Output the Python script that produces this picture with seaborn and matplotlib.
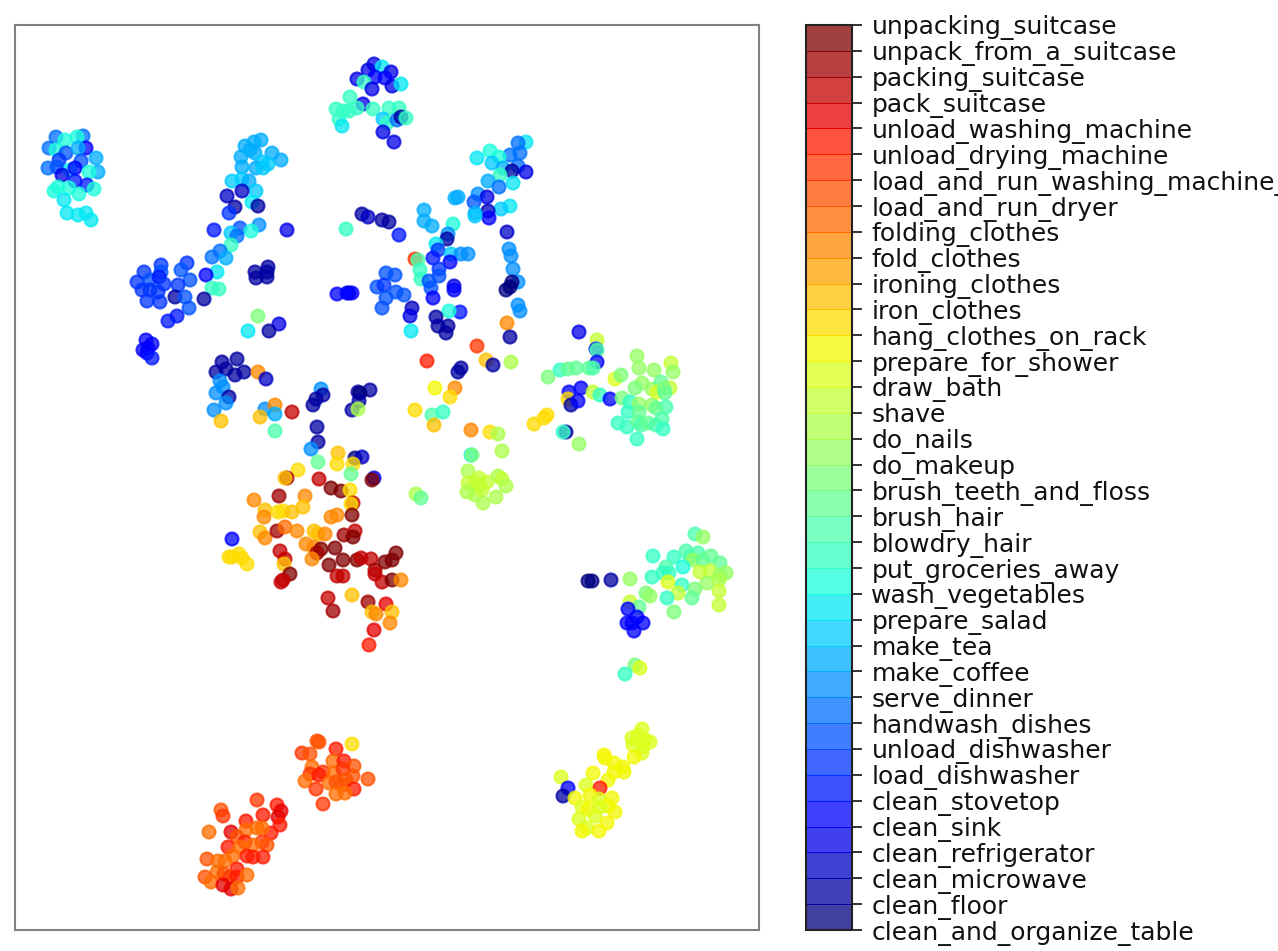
import numpy as np
import pandas as pd
import seaborn as sns
import matplotlib as mpl
import matplotlib.pyplot as plt

activity_names = ['clean_and_organize_table', 'clean_floor', 'clean_microwave', 'clean_refrigerator',
                  'clean_sink', 'clean_stovetop', 'load_dishwasher', 'unload_dishwasher',
                  'handwash_dishes', 'serve_dinner', 'make_coffee', 'make_tea', 'prepare_salad',
                  'wash_vegetables', 'put_groceries_away', 'blowdry_hair', 'brush_hair',
                  'brush_teeth_and_floss', 'do_makeup', 'do_nails', 'shave', 'draw_bath',
                  'prepare_for_shower', 'hang_clothes_on_rack', 'iron_clothes', 'ironing_clothes',
                  'fold_clothes', 'folding_clothes', 'load_and_run_dryer',
                  'load_and_run_washing_machine_', 'unload_drying_machine',
                  'unload_washing_machine', 'pack_suitcase', 'packing_suitcase',
                  'unpack_from_a_suitcase', 'unpacking_suitcase']

# embedding values, cluster by cluster, with the activity index
far_left_x = [56, 83, 65, 77, 49, 86, 56, 66, 78, 96, 59, 81, 48, 57, 70, 75, 98, 89, 62, 75, 87, 94, 54, 58, 69, 79, 64, 67, 78, 86, 91]
far_left_y = [137, 136, 140, 137, 148, 148, 150, 153, 148, 158, 160, 161, 168, 167, 170, 168, 172, 172, 175, 181, 185, 189, 191, 187, 188, 194, 200, 213, 215, 213, 220]
far_left_c = [8, 8, 13, 13, 8, 4, 13, 7, 10, 10, 6, 7, 8, 7, 12, 4, 10, 13, 3, 5, 5, 13, 13, 13, 13, 13, 12, 12, 12, 12, 12]

streak_x = [261, 254, 245, 250, 255, 241, 272, 281, 262, 268, 256, 263, 242, 232, 242, 249, 256, 242, 227, 252, 258, 235, 229, 214, 287, 240, 259, 251, 231, 237, 231, 220, 212, 226, 217, 206, 212, 219, 204]
streak_y = [140, 142, 146, 150, 153, 157, 153, 160, 162, 164, 168, 168, 167, 181, 179, 181, 191, 191, 196, 202, 206, 207, 213, 230, 230, 228, 225, 231, 233, 236, 245, 251, 257, 258, 272, 275, 288, 289, 299]
streak_c = [10, 10, 10, 10, 10, 10, 10, 10, 11, 11, 10, 11, 10, 11, 11, 10, 11, 2, 2, 12, 1, 1, 6, 5, 3, 7, 9, 13, 11, 8, 14, 8, 8, 10, 12, 4, 14, 14, 1]

left_blue_x = [187, 181, 190, 178, 175, 185, 189, 177, 168, 161, 144, 161, 137, 150, 159, 164, 142, 150, 158, 147, 160, 146, 152, 143, 148, 147, 152, 255, 268, 267, 256, 267, 258, 279, 269, 248]
left_blue_y = [263, 270, 280, 285, 297, 297, 308, 316, 321, 265, 272, 272, 282, 280, 277, 284, 290, 290, 292, 301, 302, 340, 344, 350, 348, 353, 358, 272, 267, 272, 278, 277, 316, 324, 331, 331]
left_blue_c = [6, 7, 7, 6, 1, 7, 7, 5, 5, 6, 6, 7, 6, 7, 5, 6, 6, 6, 6, 6, 6, 4, 4, 4, 4, 4, 5, 1, 1, 1, 1, 1, 17, 3, 1, 12]

top_x = [374, 382, 368, 391, 357, 375, 385, 364, 392, 401, 372, 350, 363, 336, 343, 349, 357, 373, 389, 399, 339, 342, 383, 387, 397, 401, 406, 383, 394]
top_y = [64, 67, 70, 72, 79, 77, 78, 82, 86, 84, 89, 97, 104, 109, 111, 111, 108, 109, 108, 108, 119, 126, 119, 123, 120, 117, 118, 132, 142]
top_c = [3, 12, 3, 3, 3, 4, 4, 14, 3, 12, 3, 14, 3, 14, 14, 14, 14, 14, 14, 14, 14, 12, 11, 14, 8, 1, 14, 3, 3]

upper_right_x = [526, 518, 510, 520, 490, 499, 477, 492, 503, 518, 512, 526, 500, 513, 488, 499, 478, 487, 474, 458, 455, 510, 501, 488, 489, 475, 475, 424, 424, 432, 453, 448, 447, 436, 438, 451, 461, 468, 507, 509, 511, 513, 518, 512, 510, 506, 518, 520, 507, 510, 477, 486, 493, 511, 427, 461, 458]
upper_right_y = [142, 143, 155, 153, 151, 157, 158, 163, 168, 166, 171, 172, 175, 183, 181, 187, 194, 197, 202, 197, 198, 206, 209, 211, 218, 213, 216, 210, 221, 226, 224, 234, 239, 244, 250, 254, 254, 254, 232, 249, 256, 269, 282, 282, 287, 290, 305, 311, 323, 337, 346, 360, 365, 362, 361, 368, 372]
upper_right_c = [12, 8, 8, 8, 13, 13, 12, 11, 10, 8, 1, 3, 14, 12, 10, 8, 9, 3, 7, 10, 10, 12, 11, 2, 4, 10, 11, 10, 10, 10, 13, 9, 1, 12, 6, 11, 9, 9, 2, 9, 9, 9, 9, 0, 0, 0, 9, 9, 26, 1, 29, 24, 1, 19, 30, 1, 1]

center_x = [362, 368, 382, 389, 399, 346, 415, 418, 420, 421, 433, 450, 439, 439, 429, 431, 433, 454, 454, 460, 449, 386, 395, 377, 384, 396, 404, 386, 382, 412, 410, 411, 436, 438, 448, 446, 337, 347, 352, 349]
center_y = [214, 217, 220, 222, 235, 229, 259, 260, 270, 279, 258, 262, 269, 276, 281, 288, 298, 286, 290, 312, 311, 273, 275, 287, 285, 292, 295, 298, 308, 308, 316, 331, 317, 326, 326, 333, 294, 293, 293, 293]
center_c = [1, 2, 1, 1, 5, 14, 29, 15, 14, 14, 5, 4, 6, 7, 7, 7, 4, 3, 4, 5, 13, 7, 7, 7, 6, 7, 7, 7, 7, 2, 3, 12, 1, 1, 1, 1, 4, 4, 4, 4]

mid_left_x = [237, 222, 216, 226, 235, 244, 258, 266, 220, 223, 216, 229, 226, 214, 221, 265, 275, 275, 260, 292, 275, 321, 323, 316, 313, 358, 370, 360, 359, 352, 358, 317, 318, 311, 338, 337, 318, 355, 362, 353, 351]
mid_left_y = [359, 362, 372, 369, 375, 372, 372, 379, 381, 387, 393, 397, 403, 410, 421, 409, 405, 414, 417, 412, 431, 389, 395, 399, 405, 392, 390, 393, 401, 410, 409, 427, 442, 449, 453, 464, 462, 458, 457, 464, 474]
mid_left_c = [1, 1, 1, 1, 1, 1, 26, 2, 9, 9, 9, 1, 9, 9, 24, 9, 26, 10, 24, 32, 15, 9, 1, 1, 1, 1, 1, 0, 1, 1, 19, 1, 1, 9, 24, 23, 16, 0, 2, 23, 16]

laundry_x = [298, 287, 285, 319, 331, 341, 350, 374, 372, 279, 305, 254, 353, 351, 303, 265, 278, 283, 292, 264, 331, 337, 352, 260, 265, 277, 285, 297, 314, 318, 325, 344, 355, 353, 232, 306, 314, 321, 317, 312, 335, 280, 285, 284, 343, 329, 357, 361, 371, 396, 385, 392, 375, 375, 382, 392, 401, 337, 343, 290, 283, 281, 229, 239, 242, 247, 232, 328, 352, 368, 333, 386, 372, 376, 392, 390, 374, 369]
laundry_y = [470, 478, 478, 479, 488, 491, 490, 478, 480, 496, 496, 500, 503, 504, 507, 510, 512, 511, 512, 517, 517, 515, 515, 532, 538, 531, 527, 531, 531, 534, 534, 535, 531, 537, 539, 544, 547, 549, 553, 559, 548, 551, 559, 564, 560, 565, 560, 558, 559, 553, 562, 560, 570, 574, 582, 580, 580, 576, 576, 574, 580, 582, 557, 554, 558, 564, 557, 598, 595, 602, 611, 604, 612, 614, 612, 623, 630, 645]
laundry_c = [23, 33, 24, 32, 34, 34, 23, 3, 34, 33, 26, 26, 32, 23, 24, 24, 23, 23, 24, 26, 26, 26, 34, 24, 26, 33, 27, 26, 24, 24, 26, 33, 32, 34, 4, 26, 26, 34, 33, 26, 34, 32, 32, 24, 34, 34, 34, 32, 32, 34, 34, 34, 33, 32, 32, 34, 26, 32, 32, 34, 32, 32, 23, 23, 23, 23, 23, 32, 24, 33, 33, 31, 24, 26, 24, 26, 31, 30]

mid_x = [579, 597, 596, 597, 597, 435, 455, 450, 415, 432, 443, 434, 471, 490, 498, 502, 471, 472, 468, 479, 487, 498, 502, 506, 468, 475, 480, 467, 475, 482, 496, 483, 416, 421]
mid_y = [332, 340, 349, 350, 362, 388, 388, 397, 410, 415, 412, 425, 430, 432, 434, 451, 455, 455, 471, 478, 482, 476, 479, 486, 483, 483, 485, 492, 495, 490, 497, 503, 494, 498]
mid_c = [3, 20, 5, 15, 4, 22, 26, 23, 23, 15, 14, 24, 26, 23, 19, 19, 12, 17, 19, 20, 20, 19, 20, 19, 20, 20, 20, 19, 19, 20, 19, 19, 19, 16]

right_x = [534, 544, 547, 548, 560, 568, 576, 589, 593, 569, 581, 568, 571, 578, 593, 600, 610, 566, 563, 579, 615, 621, 637, 639, 654, 671, 673, 642, 635, 622, 652, 661, 670, 657, 664, 665, 630, 639, 652, 666, 656, 628, 639, 662, 618, 627, 638, 641, 648, 656, 663, 637]
right_y = [424, 418, 415, 377, 370, 369, 368, 368, 368, 392, 388, 399, 405, 401, 392, 395, 399, 432, 432, 444, 379, 375, 356, 368, 370, 363, 372, 383, 388, 398, 389, 382, 388, 392, 388, 393, 402, 404, 405, 407, 408, 412, 412, 419, 423, 427, 422, 425, 423, 425, 429, 439]
right_c = [23, 23, 23, 17, 14, 16, 16, 16, 15, 4, 4, 23, 1, 4, 20, 14, 4, 1, 14, 18, 21, 17, 18, 18, 18, 20, 18, 18, 17, 17, 18, 16, 20, 21, 17, 16, 14, 18, 18, 15, 16, 14, 16, 15, 14, 14, 16, 15, 16, 15, 14, 14]

lower_right_x = [695, 703, 653, 674, 686, 698, 690, 711, 693, 703, 720, 666, 683, 663, 669, 652, 700, 710, 726, 720, 668, 707, 719, 682, 719, 678, 695, 692, 667, 719, 646, 650, 674, 630, 588, 592, 611, 630, 639, 628, 637, 627, 632, 643, 634, 635, 640, 625]
lower_right_y = [534, 537, 556, 557, 551, 553, 557, 556, 560, 560, 563, 567, 567, 573, 573, 577, 572, 571, 573, 575, 582, 583, 580, 585, 591, 593, 589, 598, 598, 605, 593, 596, 612, 579, 581, 581, 580, 602, 607, 609, 617, 623, 623, 623, 631, 665, 668, 674]
lower_right_c = [15, 18, 14, 14, 15, 15, 15, 16, 18, 16, 16, 15, 13, 14, 14, 14, 20, 20, 18, 18, 21, 18, 19, 14, 20, 20, 17, 16, 14, 20, 17, 18, 17, 18, 0, 0, 1, 20, 16, 4, 4, 4, 4, 4, 4, 17, 21, 14]

yellow_x = [642, 632, 638, 650, 645, 633, 643, 642, 634, 604, 605, 614, 623, 624, 614, 608, 593, 561, 586, 568, 600, 563, 575, 590, 612, 599, 582, 588, 608, 600, 615, 595, 579, 607, 587, 582, 599]
yellow_y = [729, 738, 735, 742, 740, 745, 747, 753, 757, 755, 758, 763, 767, 772, 772, 780, 773, 777, 785, 788, 788, 796, 798, 795, 798, 799, 807, 809, 806, 807, 812, 816, 819, 823, 828, 831, 831]
yellow_c = [21, 21, 21, 21, 21, 21, 21, 21, 22, 22, 22, 22, 22, 22, 22, 22, 22, 21, 21, 4, 30, 1, 22, 22, 22, 21, 21, 22, 22, 21, 22, 21, 21, 22, 21, 22, 22]

red_upper_x = [317, 319, 336, 352, 302, 310, 333, 344, 312, 354, 323, 310, 319, 334, 343, 353, 368, 305, 329, 336, 346, 316, 342, 354, 336, 345, 323]
red_upper_y = [741, 742, 749, 744, 753, 754, 761, 761, 767, 766, 772, 774, 775, 773, 769, 776, 779, 781, 783, 782, 780, 789, 785, 789, 794, 793, 804]
red_upper_c = [28, 28, 30, 23, 29, 28, 27, 30, 27, 28, 29, 29, 30, 27, 29, 28, 28, 27, 27, 28, 28, 29, 28, 30, 27, 27, 29]

red_lower_x = [257, 277, 281, 263, 278, 280, 221, 223, 246, 271, 231, 209, 246, 257, 262, 237, 262, 245, 267, 253, 228, 240, 207, 233, 247, 253, 263, 218, 225, 237, 217, 224, 230, 237, 247, 205, 211, 223, 231, 238]
red_lower_y = [800, 805, 811, 815, 817, 825, 810, 816, 821, 833, 832, 832, 830, 828, 828, 837, 842, 842, 845, 845, 847, 847, 859, 856, 856, 857, 857, 861, 861, 869, 872, 874, 877, 877, 875, 877, 882, 885, 889, 888]
red_lower_c = [29, 30, 31, 30, 31, 30, 28, 29, 30, 30, 31, 27, 27, 27, 27, 28, 29, 30, 28, 27, 30, 27, 28, 27, 30, 30, 30, 27, 27, 30, 27, 28, 29, 30, 27, 28, 27, 31, 31, 27]

df = pd.DataFrame({
    'x': far_left_x + streak_x + left_blue_x + top_x + upper_right_x + center_x + mid_left_x + laundry_x + mid_x + right_x + lower_right_x + yellow_x + red_upper_x + red_lower_x,
    'y': far_left_y + streak_y + left_blue_y + top_y + upper_right_y + center_y + mid_left_y + laundry_y + mid_y + right_y + lower_right_y + yellow_y + red_upper_y + red_lower_y,
    'activity': far_left_c + streak_c + left_blue_c + top_c + upper_right_c + center_c + mid_left_c + laundry_c + mid_c + right_c + lower_right_c + yellow_c + red_upper_c + red_lower_c,
})

sns.set_style('white')

W, H = 1278, 951
fig = plt.figure(figsize=(W / 100, H / 100), dpi=100)
ax = fig.add_axes([15 / W, 1 - 930 / H, 744 / W, 905 / H])
cax = fig.add_axes([806 / W, 1 - 930 / H, 46 / W, 905 / H])

cmap = plt.get_cmap('jet', 35)
norm = mpl.colors.BoundaryNorm(np.arange(36), 35)

sns.scatterplot(data=df, x='x', y='y', hue='activity', palette=cmap, hue_norm=norm,
                s=88, alpha=0.75, edgecolor='face', linewidth=1.5, legend=False, ax=ax)
ax.set_xlim(15, 759)
ax.set_ylim(930, 25)
ax.set_xlabel('')
ax.set_ylabel('')
ax.set_xticks([])
ax.set_yticks([])
for spine in ax.spines.values():
    spine.set_color('gray')
    spine.set_linewidth(1.5)

cbar = fig.colorbar(mpl.cm.ScalarMappable(norm=norm, cmap=cmap), cax=cax,
                    ticks=np.arange(36), alpha=0.75)
cbar.solids.set_edgecolor('face')
cbar.solids.set_linewidth(0.6)
cbar.outline.set_edgecolor('#222222')
cbar.outline.set_linewidth(1.5)
cax.set_yticklabels(activity_names, fontsize=18, color='#111111')
cax.tick_params(axis='y', right=True, length=7, width=1.3, color='#222222', pad=7)
cax.minorticks_off()

fig.savefig('out.png', dpi=100)
